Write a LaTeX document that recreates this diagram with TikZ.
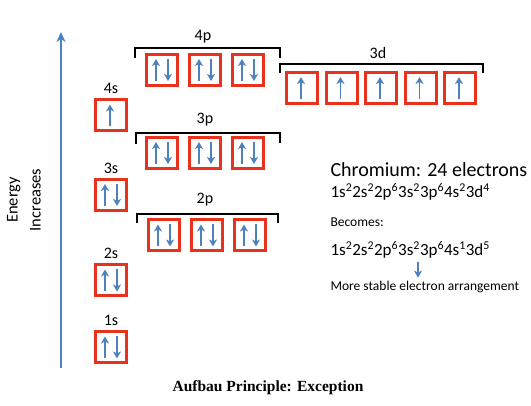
\documentclass[tikz,border=0pt]{standalone}
\usepackage{fontspec}
\setmainfont{Carlito}
\newfontfamily\capfont{Liberation Serif}
\usetikzlibrary{arrows.meta}
\definecolor{orbred}{RGB}{232,50,30}
\definecolor{spinblue}{RGB}{79,129,189}
\begin{document}
\begin{tikzpicture}[x=1pt,y=-1pt,
    orb/.style={draw=orbred,line width=3pt,minimum size=31pt,inner sep=0pt},
    spin/.style={spinblue,line width=1.8pt,-{Stealth[length=7pt,width=8pt,inset=2pt]}},
    brace/.style={line width=1.8pt},
    lbl/.style={font=\fontsize{16}{18}\selectfont}]
    \useasboundingbox (0,0) rectangle (531,406);
    % energy axis
    \coordinate (ebot) at (61,368);
    \coordinate (etop) at (61,32);
    \draw[spinblue,line width=2pt,-{Stealth[length=10pt,width=9pt,inset=3pt]}] (ebot) -- (etop);
    \node[rotate=90,align=center,font=\fontsize{16.5}{23}\selectfont] (energy) at (24,200) {Energy\\Increases};
    % s orbitals
    \foreach \n/\y in {1/347.5,2/280.5,3/195}{
        \node[orb] (s\n) at (111,\y) {};
        \node[lbl,above=1pt] (ls\n) at (s\n.north) {\n s};
        \draw[spin] ([shift={(-6,11)}]s\n.center) -- ([shift={(-6,-11)}]s\n.center);
        \draw[spin] ([shift={(6,-11)}]s\n.center) -- ([shift={(6,11)}]s\n.center);
    }
    \node[orb] (s4) at (111,115.5) {};
    \node[lbl,above=1pt] (ls4) at (s4.north) {4s};
    \draw[spin] ([shift={(-1,11)}]s4.center) -- ([shift={(-1,-11)}]s4.center);
    % p orbitals
    \foreach \r/\y/\x in {2/235.5/164,3/153/162,4/70/162}{
        \foreach \i in {0,1,2}{
            \node[orb] (p\r-\i) at ({\x+43*\i},\y) {};
            \draw[spin] ([shift={(-6,11)}]p\r-\i.center) -- ([shift={(-6,-11)}]p\r-\i.center);
            \draw[spin] ([shift={(6,-11)}]p\r-\i.center) -- ([shift={(6,11)}]p\r-\i.center);
        }
    }
    \draw[brace] (137,223) -- (137,214) -- (278,214) -- (278,223);
    \node[lbl] (lp2) at (205,200) {2p};
    \draw[brace] (136,144) -- (136,133) -- (280,133) -- (280,143);
    \node[lbl] (lp3) at (205,120) {3p};
    \draw[brace] (135,58) -- (135,48) -- (280,48) -- (280,58);
    \node[lbl] (lp4) at (203,37) {4p};
    % d orbitals
    \foreach \i in {0,...,4}{
        \node[orb] (d3-\i) at ({302+39.5*\i},88) {};
        \draw[spin] ([shift={(-1,11)}]d3-\i.center) -- ([shift={(-1,-11)}]d3-\i.center);
    }
    \draw[brace] (280,73) -- (280,64) -- (483,64) -- (483,73);
    \node[lbl] (ld3) at (378,53) {3d};
    % configuration text
    \node[anchor=west,font=\fontsize{20}{24}\selectfont] (chrom) at (327,170) {Chromium: 24 electrons};
    \node[anchor=west,font=\fontsize{17}{22}\selectfont] (cfgold) at (327,192) {1s\textsuperscript{2}2s\textsuperscript{2}2p\textsuperscript{6}3s\textsuperscript{2}3p\textsuperscript{6}4s\textsuperscript{2}3d\textsuperscript{4}};
    \node[anchor=west,font=\fontsize{13.5}{16}\selectfont] (becomes) at (327,222) {Becomes:};
    \node[anchor=west,font=\fontsize{17}{22}\selectfont] (cfgnew) at (327,250) {1s\textsuperscript{2}2s\textsuperscript{2}2p\textsuperscript{6}3s\textsuperscript{2}3p\textsuperscript{6}4s\textsuperscript{1}3d\textsuperscript{5}};
    \node[anchor=west,font=\fontsize{13.5}{16}\selectfont] (stable) at (327,287) {More stable electron arrangement};
    \coordinate (mid) at (418,0);
    \draw[spin,line width=1.5pt] (cfgnew.south -| mid) -- (stable.north -| mid);
    % caption
    \node[font=\capfont\bfseries\fontsize{15.5}{18}\selectfont] (title) at (268,388) {Aufbau Principle: Exception};
\end{tikzpicture}
\end{document}
